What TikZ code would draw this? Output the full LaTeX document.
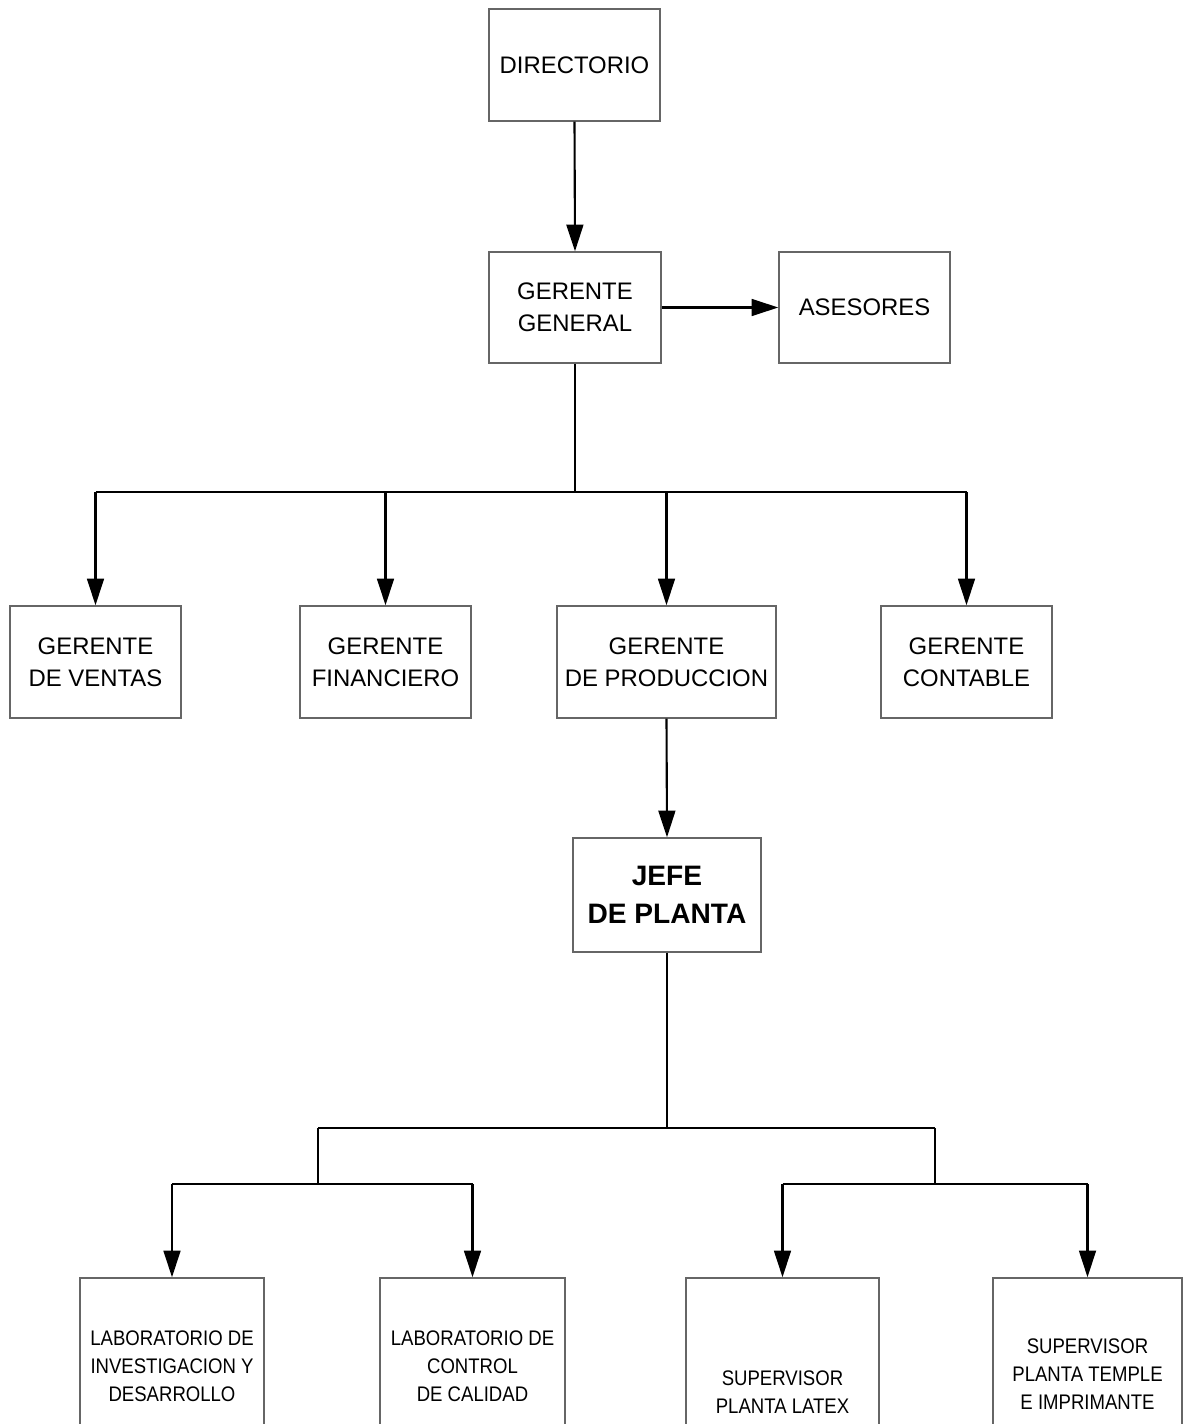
\documentclass[tikz,border=0pt]{standalone}
\usepackage{fontspec}
\setmainfont{Liberation Sans}
\newfontfamily\narrowfont[FakeStretch=0.88]{Liberation Sans}
\usetikzlibrary{arrows.meta}
\tikzset{>={Triangle[length=19pt,width=12pt]}}
\tikzset{caja/.style = {draw=black!60, line width=1pt, align=center,
                        inner sep=0pt, font=\fontsize{17}{23}\selectfont}}
\tikzset{cajachica/.style = {caja, font=\narrowfont\fontsize{15}{20}\selectfont}}
\tikzset{linea/.style = {line width=1.5pt}}

\begin{document}
\begin{tikzpicture}[x=0.025cm, y=-0.025cm]
  \useasboundingbox (0,0) rectangle (1185,1424);
  \clip (0,0) rectangle (1185,1424);

  % cajas
  \node[caja, minimum width=4.275cm, minimum height=2.8cm] (dir) at (574.5,65) {DIRECTORIO};
  \node[caja, minimum width=4.3cm, minimum height=2.775cm] (gg) at (575,307.5) {GERENTE\\GENERAL};
  \node[caja, minimum width=4.275cm, minimum height=2.775cm] (ase) at (864.5,307.5) {ASESORES};

  \node[caja, minimum width=4.275cm, minimum height=2.8cm] (ven) at (95.5,662) {GERENTE\\DE VENTAS};
  \node[caja, minimum width=4.275cm, minimum height=2.8cm] (fin) at (385.5,662) {GERENTE\\FINANCIERO};
  \node[caja, minimum width=5.475cm, minimum height=2.8cm] (pro) at (666.5,662) {GERENTE\\DE PRODUCCION};
  \node[caja, minimum width=4.275cm, minimum height=2.8cm] (con) at (966.5,662) {GERENTE\\CONTABLE};

  \node[caja, minimum width=4.7cm, minimum height=2.85cm,
        font=\bfseries\fontsize{20}{27}\selectfont] (jefe) at (667,895) {JEFE\\DE PLANTA};

  \node[cajachica, minimum width=4.6cm, minimum height=4.4cm] (lab1) at (172,1366)
       {LABORATORIO DE\\INVESTIGACION Y\\DESARROLLO};
  \node[cajachica, minimum width=4.625cm, minimum height=4.4cm] (lab2) at (472.5,1366)
       {LABORATORIO DE\\CONTROL\\DE CALIDAD};
  \node[cajachica, minimum width=4.825cm, minimum height=5.7cm] (sup1) at (782.5,1392)
       {SUPERVISOR\\PLANTA LATEX};
  \node[cajachica, minimum width=4.725cm, minimum height=4.8cm] (sup2) at (1087.5,1374)
       {SUPERVISOR\\PLANTA TEMPLE\\E IMPRIMANTE};

  % conectores
  \draw[linea,->] (dir.south) -- (gg.north);
  \draw[linea,->] (gg.east) -- (ase.west);

  \coordinate (r1) at (575,492);
  \draw[linea] (gg.south) -- (r1);
  \draw[linea] (ven.north |- r1) -- (con.north |- r1);
  \foreach \n in {ven,fin,pro,con}
    \draw[linea,->] (\n.north |- r1) -- (\n.north);

  \draw[linea,->] (pro.south) -- (jefe.north);

  \coordinate (r2) at (667,1128);
  \coordinate (bl) at (318,1184);
  \coordinate (br) at (935,1184);
  \draw[linea] (jefe.south) -- (r2);
  \draw[linea] (bl |- r2) -- (br |- r2);
  \draw[linea] (bl |- r2) -- (bl);
  \draw[linea] (br |- r2) -- (br);
  \draw[linea] (lab1.north |- bl) -- (lab2.north |- bl);
  \draw[linea] (sup1.north |- br) -- (sup2.north |- br);
  \foreach \n in {lab1,lab2,sup1,sup2}
    \draw[linea,->] (\n.north |- bl) -- (\n.north);
\end{tikzpicture}
\end{document}
